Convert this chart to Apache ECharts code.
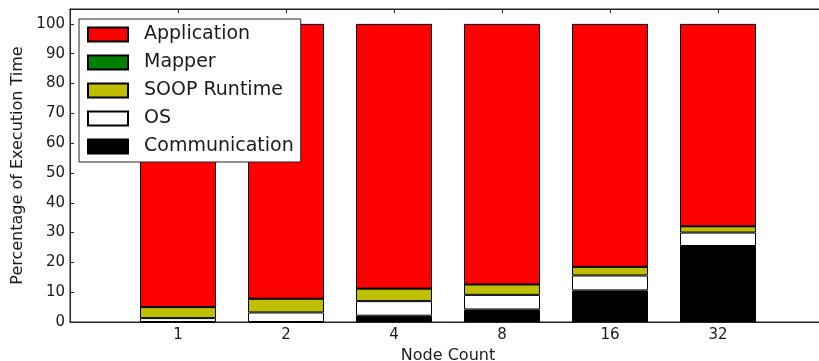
<!DOCTYPE html>
<html>
<head>
<meta charset="utf-8">
<script src="https://cdn.jsdelivr.net/npm/echarts@6/dist/echarts.min.js"></script>
<style>html,body{margin:0;padding:0;background:#fff;}#c{width:819px;height:361px;}</style>
</head>
<body>
<div id="c"></div>
<script>
var categories = ['1', '2', '4', '8', '16', '32'];
var communication = [0, 0, 2.1, 4.2, 10.6, 25.5];
var os = [1.3, 3.2, 4.9, 4.9, 5.0, 4.5];
var soop = [3.7, 4.6, 4.2, 3.5, 2.9, 2.1];
var mapper = [0, 0, 0, 0, 0, 0];
var application = [95.0, 92.2, 88.8, 87.4, 81.5, 67.9];
var yTicks = [0, 10, 20, 30, 40, 50, 60, 70, 80, 90, 100];
var yTitle = 'Percentage of Execution Time';
var xTitle = 'Node Count';

var axisCats = [''].concat(categories).concat(['']);
function pad(arr) { return [null].concat(arr).concat([null]); }
var font = 'DejaVu Sans';
var txt = '#1a1a1a';

function mk(name, data, color) {
  return {
    name: name, type: 'bar', stack: 'all', data: pad(data), barWidth: 76,
    itemStyle: { color: color, borderColor: '#000', borderWidth: 1 },
    emphasis: { disabled: true }, animation: false
  };
}

var chart = echarts.init(document.getElementById('c'), null, { renderer: 'canvas' });
chart.setOption({
  animation: false,
  textStyle: { fontFamily: font },
  grid: { left: 70, top: 9, bottom: 39, right: -7, outerBoundsMode: 'none', containLabel: false,
    show: true, borderColor: '#222', borderWidth: 1, backgroundColor: 'transparent' },
  legend: {
    data: ['Application', 'Mapper', 'SOOP Runtime', 'OS', 'Communication'],
    orient: 'vertical', left: 79, top: 19, icon: 'rect',
    itemWidth: 40, itemHeight: 14, itemGap: 9,
    padding: [6, 7, 6, 8],
    backgroundColor: '#fff', borderColor: '#222', borderWidth: 1, borderRadius: 0,
    selectedMode: false,
    textStyle: { fontFamily: font, fontSize: 19, color: txt, padding: [0, 0, 0, 11] }
  },
  xAxis: [{
    type: 'category', data: axisCats, boundaryGap: false, position: 'bottom',
    name: xTitle, nameLocation: 'middle', nameGap: 22,
    nameTextStyle: { fontFamily: font, fontSize: 16, color: txt },
    axisLine: { lineStyle: { color: '#222', width: 1 } },
    axisTick: { inside: true, length: 4, lineStyle: { color: '#222' }, interval: function (i, v) { return v !== ''; } },
    axisLabel: { fontFamily: font, fontSize: 15, color: txt, margin: 6, interval: 0 },
    splitLine: { show: false }
  }, {
    type: 'category', data: axisCats, boundaryGap: false, position: 'top',
    axisLine: { lineStyle: { color: '#222', width: 1 } },
    axisTick: { inside: true, length: 4, lineStyle: { color: '#222' }, interval: function (i, v) { return v !== ''; } },
    axisLabel: { show: false }, splitLine: { show: false }
  }],
  yAxis: {
    type: 'value', min: 0, max: 105, interval: 10,
    name: yTitle, nameLocation: 'middle', nameGap: 40,
    nameTextStyle: { fontFamily: font, fontSize: 16, color: txt },
    axisLine: { show: true, lineStyle: { color: '#222', width: 1 } },
    axisTick: { show: true, inside: true, length: 4, lineStyle: { color: '#222' } },
    axisLabel: { fontFamily: font, fontSize: 15, color: txt, margin: 5,
      formatter: function (v) { return yTicks.indexOf(v) >= 0 ? String(v) : ''; } },
    splitLine: { show: false }
  },
  series: [
    mk('Communication', communication, '#000000'),
    mk('OS', os, '#ffffff'),
    mk('SOOP Runtime', soop, '#bfbf00'),
    mk('Mapper', mapper, '#008000'),
    mk('Application', application, '#ff0000')
  ]
});
</script>
</body>
</html>
